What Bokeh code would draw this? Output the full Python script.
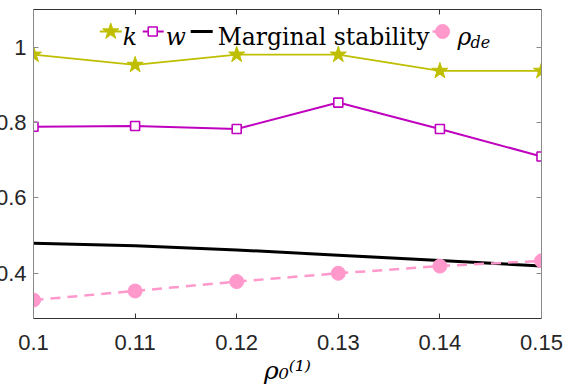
from bokeh.plotting import figure
from bokeh.models import Range1d, FixedTicker, LinearAxis, Label
from bokeh.embed import file_html
from bokeh.resources import INLINE

# ---- data ----
rho0 = [0.10, 0.11, 0.12, 0.13, 0.14, 0.15]
k_vals = [0.980, 0.953, 0.980, 0.980, 0.937, 0.937]
w_vals = [0.789, 0.791, 0.783, 0.853, 0.783, 0.710]
marginal = [0.480, 0.473, 0.462, 0.448, 0.434, 0.419]
rho_de = [0.329, 0.353, 0.378, 0.400, 0.419, 0.433]

x_ticks = [0.10, 0.11, 0.12, 0.13, 0.14, 0.15]
x_tick_labels = ["0.1", "0.11", "0.12", "0.13", "0.14", "0.15"]
y_ticks = [0.4, 0.6, 0.8, 1.0]
y_tick_labels = ["0.4", "0.6", "0.8", "1"]

X0, X1 = 0.1, 0.15
Y0, Y1 = 0.28, 1.1

C_K = "#BFBF00"
C_W = "#BF00BF"
C_M = "#000000"
C_R = "#FF99CC"
AX_H = "#333333"
AX_V = "#8a8a8a"
TXT = "#262626"

p = figure(frame_width=508, frame_height=309, output_backend="svg", toolbar_location=None,
           x_range=Range1d(X0, X1), y_range=Range1d(Y0, Y1),
           min_border_left=0, min_border_right=28, min_border_top=9, min_border_bottom=0)
p.styles = {"margin-left": "-8px"}
p.outline_line_color = None
p.xgrid.visible = False
p.ygrid.visible = False
p.background_fill_color = "white"
p.border_fill_color = "white"

def style_axis(ax, ticks, labels, color, show_labels, standoff):
    ax.ticker = FixedTicker(ticks=ticks)
    ax.major_label_overrides = {t: l for t, l in zip(ticks, labels)}
    ax.axis_line_color = color
    ax.major_tick_line_color = color
    ax.major_tick_in = 5
    ax.major_tick_out = 0
    ax.minor_tick_line_color = None
    ax.major_label_text_font = "Liberation Sans"
    ax.major_label_standoff = standoff
    if show_labels:
        ax.major_label_text_color = TXT
        ax.major_label_text_font_size = "22px"
    else:
        ax.major_label_text_color = None
        ax.major_label_text_font_size = "1px"

style_axis(p.xaxis[0], x_ticks, x_tick_labels, AX_H, True, 16)
style_axis(p.yaxis[0], y_ticks, y_tick_labels, AX_V, True, 7)
p.xaxis[0].axis_label = "ρ₀⁽¹⁾"
p.xaxis[0].axis_label_text_font = "DejaVu Serif"
p.xaxis[0].axis_label_text_font_style = "italic"
p.xaxis[0].axis_label_text_font_size = "25px"
p.xaxis[0].axis_label_text_color = "black"
p.xaxis[0].axis_label_standoff = 3

top = LinearAxis()
style_axis(top, x_ticks, x_tick_labels, AX_H, False, 0)
p.add_layout(top, "above")
right = LinearAxis()
style_axis(right, y_ticks, y_tick_labels, AX_V, False, 0)
p.add_layout(right, "right")

# ---- series ----
p.line(rho0, k_vals, line_color=C_K, line_width=1.8)
p.scatter(rho0, k_vals, marker="star", size=17, fill_color=C_K, line_color=C_K)
p.line(rho0, w_vals, line_color=C_W, line_width=2)
p.scatter(rho0, w_vals, marker="square", size=9, fill_color="white", line_color=C_W, line_width=1.6)
p.line(rho0, marginal, line_color=C_M, line_width=3)
p.line(rho0, rho_de, line_color=C_R, line_width=2.5, line_dash="10 7")
p.scatter(rho0, rho_de, marker="circle", size=14, fill_color=C_R, line_color=C_R)

# ---- legend (page pixel layout relative to the frame -> data coords) ----
FL, FR, FT, FB = 32.7, 541.0, 10.0, 319.0
def lx(px):
    return X0 + (px - FL) / (FR - FL) * (X1 - X0)
def ly(py):
    return Y1 - (py - FT) / (FB - FT) * (Y1 - Y0)

LY = 32
p.line([lx(99), lx(121)], [ly(LY), ly(LY)], line_color=C_K, line_width=1.8)
p.scatter([lx(110)], [ly(LY)], marker="star", size=17, fill_color=C_K, line_color=C_K)
p.line([lx(142), lx(163)], [ly(LY), ly(LY)], line_color=C_W, line_width=2)
p.scatter([lx(152)], [ly(LY)], marker="square", size=9, fill_color="white", line_color=C_W, line_width=1.6)
p.line([lx(190), lx(212)], [ly(LY), ly(LY)], line_color=C_M, line_width=3)
p.line([lx(432), lx(440)], [ly(LY), ly(LY)], line_color=C_R, line_width=2.5)
p.scatter([lx(442)], [ly(LY)], marker="circle", size=14, fill_color=C_R, line_color=C_R)

def lab(px, py, text, size, style="normal"):
    p.add_layout(Label(x=lx(px), y=ly(py), text=text, text_font="DejaVu Serif",
                       text_font_size=size, text_font_style=style, text_color="black",
                       text_baseline="alphabetic", text_align="left"))

lab(122, 37, "k", "23.5px", "italic")
lab(165, 37, "w", "23.5px", "italic")
lab(217, 37, "Marginal stability", "23.5px")
lab(457, 37, "ρ", "23.5px", "italic")
lab(470, 43, "de", "16px", "italic")

html = file_html(p, INLINE)
html = html.replace("</head>", "<style>html,body{overflow:hidden;}</style></head>", 1)
open("out.html", "w").write(html)
